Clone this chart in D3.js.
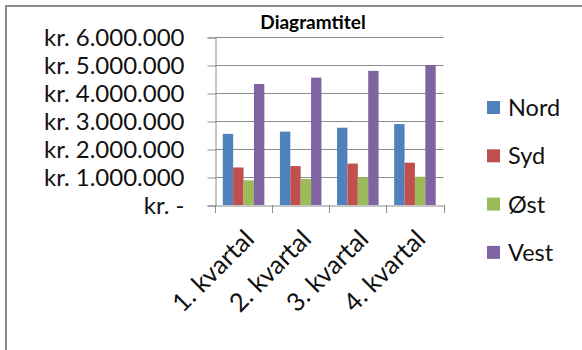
<!DOCTYPE html>
<html>
<head>
<meta charset="utf-8">
<script src="https://cdn.jsdelivr.net/npm/d3@7"></script>
<style>
  html, body { margin: 0; padding: 0; background: #fff; }
  svg { display: block; font-family: Lato, "Noto Sans", sans-serif; }
</style>
</head>
<body>
<svg id="chart" width="582" height="350"></svg>
<script>
// Quarterly sales per region (kr.)
const categories = ["1. kvartal", "2. kvartal", "3. kvartal", "4. kvartal"];
const seriesNames = ["Nord", "Syd", "Øst", "Vest"];
const nord = [2540000, 2620000, 2760000, 2890000];
const syd  = [1340000, 1390000, 1480000, 1510000];
const ost  = [880000, 930000, 980000, 1010000];
const vest = [4320000, 4550000, 4790000, 5000000];
const yTicks = [0, 1000000, 2000000, 3000000, 4000000, 5000000, 6000000];
const colors = ["#4F81BD", "#C0504D", "#9BBB59", "#8064A2"];
const title = "Diagramtitel";

const seriesValues = [nord, syd, ost, vest];
const svg = d3.select("#chart");

// chart frame
svg.append("path")
  .attr("d", "M6,352 V6 H584")
  .attr("fill", "none")
  .attr("stroke", "#8a8a8a")
  .attr("stroke-width", 2);

const plot = { left: 215, right: 443.5, top: 37, bottom: 205 };

const x = d3.scaleBand().domain(categories).range([plot.left, plot.right]).padding(0);
const barW = x.bandwidth() / 5.5;
const xs = d3.scaleBand().domain(seriesNames).range([0.75 * barW, 4.75 * barW]).padding(0);
const y = d3.scaleLinear().domain([0, 6000000]).range([plot.bottom, plot.top]);

const fmt = v => v === 0 ? "kr. -" : "kr. " + d3.format(",")(v).replace(/,/g, ".");

// gridlines
svg.append("g")
  .selectAll("line")
  .data(yTicks.filter(t => t > 0))
  .join("line")
  .attr("x1", plot.left).attr("x2", plot.right)
  .attr("y1", d => Math.round(y(d)) + 0.5).attr("y2", d => Math.round(y(d)) + 0.5)
  .attr("stroke", "#8c8c8c").attr("stroke-width", 1);

// bars
const groups = svg.append("g")
  .selectAll("g")
  .data(categories)
  .join("g")
  .attr("transform", d => `translate(${x(d)},0)`);

groups.selectAll("rect")
  .data((c, i) => seriesNames.map((s, j) => ({ s, j, v: seriesValues[j][i] })))
  .join("rect")
  .attr("x", d => xs(d.s))
  .attr("width", xs.bandwidth())
  .attr("y", d => y(d.v))
  .attr("height", d => y(0) - y(d.v))
  .attr("fill", d => colors[d.j]);

// y axis
const yAxis = d3.axisLeft(y).tickValues(yTicks).tickFormat(fmt).tickSize(8).tickPadding(23);
const gy = svg.append("g").attr("transform", `translate(${plot.left + 0.5},0.5)`).call(yAxis);
gy.select(".domain").attr("stroke", "#8c8c8c");
gy.selectAll(".tick line").attr("stroke", "#8c8c8c");
gy.selectAll(".tick text")
  .attr("font-size", 24)
  .attr("font-family", "Lato, sans-serif")
  .attr("fill", "#111");

// x axis
const xAxis = d3.axisBottom(x).tickSize(0).tickFormat(d => d);
const gx = svg.append("g").attr("transform", `translate(0,${plot.bottom + 0.5})`).call(xAxis);
gx.select(".domain").attr("stroke", "#8c8c8c");
gx.selectAll(".tick text")
  .attr("font-size", 25.5)
  .attr("font-family", "Lato, sans-serif")
  .attr("fill", "#111")
  .attr("text-anchor", "end")
  .attr("dy", 0)
  .attr("transform", "translate(10,33) rotate(-45)");

// category boundary ticks
svg.append("g")
  .selectAll("line")
  .data(categories.concat([null]))
  .join("line")
  .attr("x1", (d, i) => Math.round(plot.left + i * x.step()) + 0.5)
  .attr("x2", (d, i) => Math.round(plot.left + i * x.step()) + 0.5)
  .attr("y1", plot.bottom).attr("y2", plot.bottom + 8)
  .attr("stroke", "#8c8c8c");

// title
svg.append("text")
  .attr("x", 313).attr("y", 29)
  .attr("text-anchor", "middle")
  .attr("font-weight", "bold")
  .attr("font-size", 19)
  .attr("fill", "#000")
  .text(title);

// legend
const legend = svg.append("g")
  .selectAll("g")
  .data(seriesNames)
  .join("g")
  .attr("transform", (d, i) => `translate(487,${107.5 + i * 48.3})`);
legend.append("rect")
  .attr("x", 0).attr("y", -6.5).attr("width", 13).attr("height", 13)
  .attr("fill", (d, i) => colors[i]);
legend.append("text")
  .attr("x", 21).attr("y", 0).attr("dy", "0.36em")
  .attr("font-size", 23.5)
  .attr("fill", "#111")
  .text(d => d);
</script>
</body>
</html>
